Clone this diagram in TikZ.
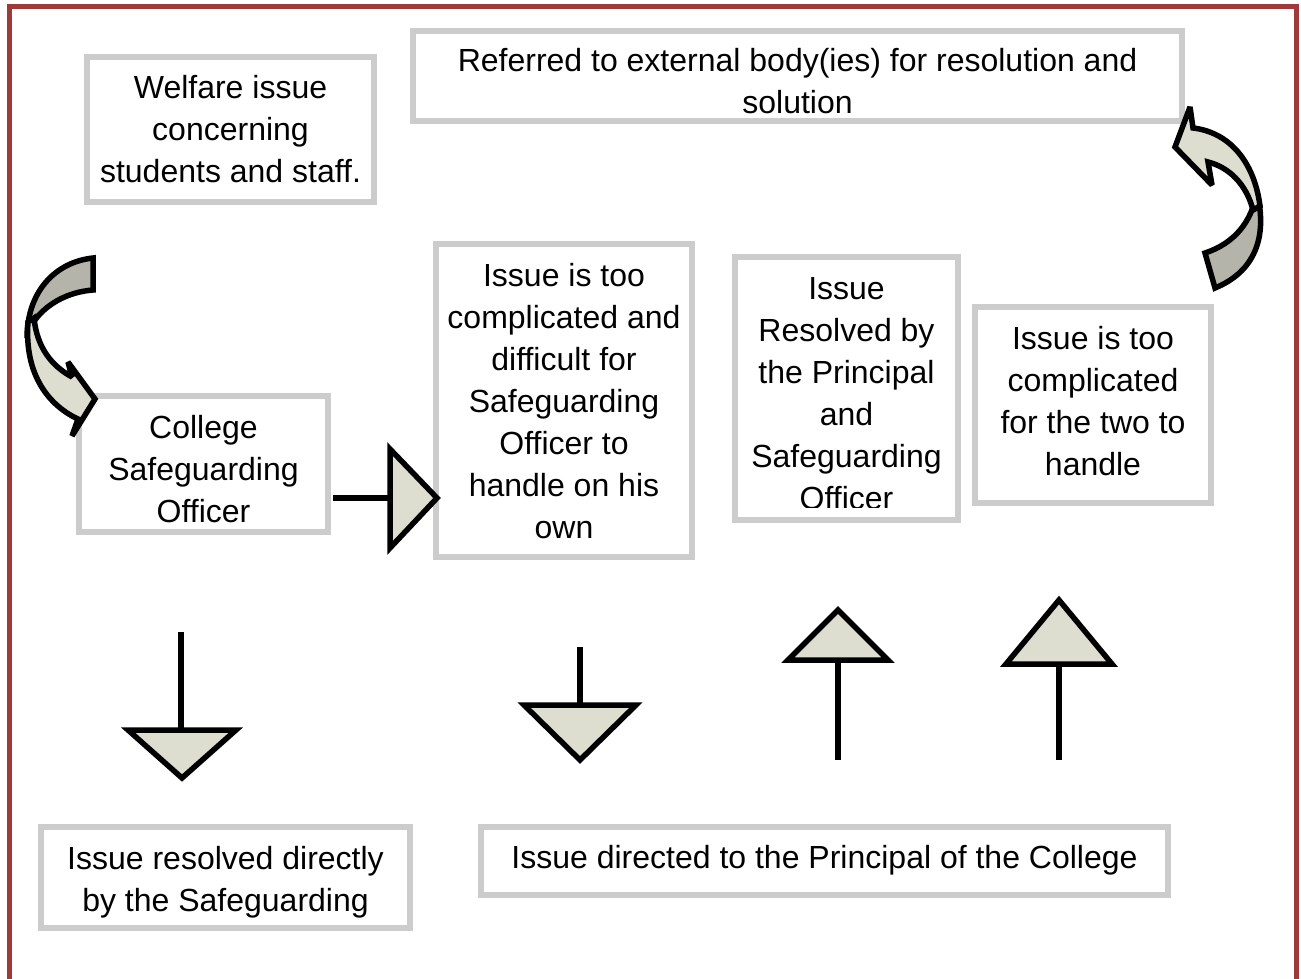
\documentclass[tikz,border=0pt]{standalone}
\usepackage{fontspec}
\setmainfont{Liberation Sans}

\definecolor{framered}{RGB}{158,58,58}
\definecolor{boxgray}{RGB}{204,204,204}
\definecolor{arrowfill}{RGB}{221,221,208}
\definecolor{arrowdark}{RGB}{180,180,170}

\tikzset{
  box/.style={draw=boxgray, line width=6pt, inner sep=0pt},
  boxtext/.style={align=center, inner sep=0pt, font=\fontsize{32}{42}\selectfont},
  blockarrow/.style={draw=black, line width=5.5pt, fill=arrowfill, line join=miter},
  backarrow/.style={blockarrow, fill=arrowdark},
  curvedarrow/.style={blockarrow, miter limit=2},
  shaft/.style={line width=5.5pt},
}

\begin{document}
\begin{tikzpicture}[x=1pt, y=-1pt]

    \useasboundingbox (0,0) rectangle (1301,978);
    \draw[framered, line width=5pt, line join=miter] (9.5,990) -- (9.5,6.5) -- (1296,6.5) -- (1296,990);

    % boxes
    \node[box, minimum width=287, minimum height=145] (welfare) at (230.5,129.5) {};
    \node[boxtext] (welfaretext) at (230.5,129.5)
        {Welfare issue\\concerning\\students and staff.};

    \node[box, minimum width=769, minimum height=90] (external) at (797.5,76) {};
    \node[boxtext] (externaltext) at (797.5,81)
        {Referred to external body(ies) for resolution and\\solution};

    \node[box, minimum width=249, minimum height=136] (officer) at (203.5,464) {};
    \node[boxtext] (officertext) at (203.5,469)
        {College\\Safeguarding\\Officer};

    \node[box, minimum width=256, minimum height=313] (ownissue) at (564,400.5) {};
    \node[boxtext] (ownissuetext) at (564,401.5)
        {Issue is too\\complicated and\\difficult for\\Safeguarding\\Officer to\\handle on his\\own};

    \node[box, minimum width=223, minimum height=263] (resolved) at (846.5,388.5) {};
    \begin{scope}
        \clip (738,260) rectangle (955,507);
        \node[boxtext] (resolvedtext) at (846.5,394)
            {Issue\\Resolved by\\the Principal\\and\\Safeguarding\\Officer};
    \end{scope}

    \node[box, minimum width=236, minimum height=196] (twoissue) at (1093,405) {};
    \node[boxtext] (twoissuetext) at (1093,401)
        {Issue is too\\complicated\\for the two to\\handle};

    \node[box, minimum width=369, minimum height=101] (direct) at (225.5,877.5) {};
    \node[boxtext] (directtext) at (225.5,882)
        {Issue resolved directly\\by the Safeguarding};

    \node[box, minimum width=687, minimum height=68] (principal) at (824.5,861) {};
    \node[boxtext] (principaltext) at (824.5,860)
        {Issue directed to the Principal of the College};

    % curved arrow on the left
    \draw[backarrow, miter limit=2] (93,258) .. controls (55,262) and (27,292) .. (27,338)
        .. controls (30,318) and (55,293) .. (93,290) -- cycle;
    \draw[curvedarrow] (28,322) .. controls (24,376) and (50,406) .. (78,419)
        -- (72,436) -- (95,399) -- (68,362) -- (72,377)
        .. controls (52,366) and (37,348) .. (34,318) -- cycle;

    % curved arrow on the right
    \draw[backarrow, miter limit=2] (1205,253) -- (1215,288) .. controls (1254,272) and (1268,238) .. (1257,193)
        .. controls (1251,222) and (1235,243) .. (1205,253) -- cycle;
    \draw[curvedarrow] (1260,206) .. controls (1254,160) and (1228,132) .. (1193,128)
        -- (1190,107) -- (1175,147) -- (1212,185) -- (1208,162)
        .. controls (1228,167) and (1246,183) .. (1253,210) -- cycle;

    % straight arrows
    \draw[shaft] (officer.east) ++(2,34) -- (390,498);
    \draw[blockarrow] (390,449) -- (437,498) -- (390,548) -- cycle;

    \draw[shaft] (181,632) -- (181,730);
    \draw[blockarrow] (128,730) -- (236,730) -- (182,778) -- cycle;

    \draw[shaft] (580,647) -- (580,705);
    \draw[blockarrow] (524,705) -- (636,705) -- (580,760) -- cycle;

    \draw[shaft] (838,760) -- (838,660);
    \draw[blockarrow] (788,660) -- (888,660) -- (838,610) -- cycle;

    \draw[shaft] (1059,760) -- (1059,664);
    \draw[blockarrow] (1006,664) -- (1112,664) -- (1059,600) -- cycle;

\end{tikzpicture}
\end{document}
